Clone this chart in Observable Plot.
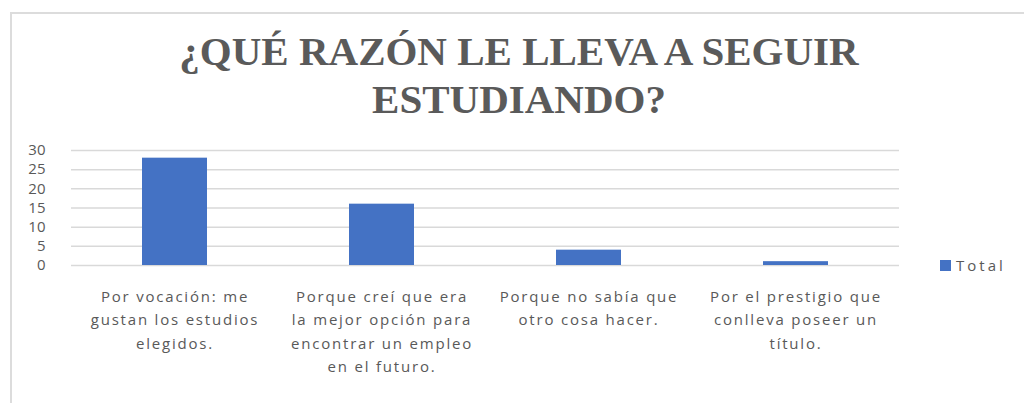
<!DOCTYPE html>
<html><head><meta charset="utf-8">
<script src="https://cdn.jsdelivr.net/npm/d3@7"></script>
<script src="https://cdn.jsdelivr.net/npm/@observablehq/plot@0.6"></script>
<style>
body{margin:0;background:#fff;}
#wrap{position:relative;width:1024px;height:403px;overflow:hidden;background:#fff;}
#border{position:absolute;left:10px;top:12px;width:1040px;height:420px;border:2px solid #dcdcdc;box-sizing:border-box;}
#title{position:absolute;left:0;top:27px;width:1038px;text-align:center;font-family:"Liberation Serif","Times New Roman",serif;font-weight:bold;font-size:41px;line-height:48px;color:#5a5a5a;}
#chart{position:absolute;left:0;top:0;}
#legend{position:absolute;left:940px;top:255px;font-family:"Open Sans",sans-serif;font-size:15px;letter-spacing:3px;color:#595959;display:flex;align-items:center;}
#legend span.sw{display:inline-block;width:11px;height:11px;background:#4472C4;margin-right:5px;}
#chart g[aria-label="x-axis tick label"] text{letter-spacing:1.8px;}
</style></head>
<body>
<div id="wrap">
<div id="border"></div>
<div id="title">¿QUÉ RAZÓN LE LLEVA A SEGUIR<br>ESTUDIANDO?</div>
<div id="chart"></div>
<div id="legend"><span class="sw"></span><span id="legtext"></span></div>
</div>
<script>
const categories = [
  "Por vocación: me\ngustan los estudios\nelegidos.",
  "Porque creí que era\nla mejor opción para\nencontrar un empleo\nen el futuro.",
  "Porque no sabía que\notro cosa hacer.",
  "Por el prestigio que\nconlleva poseer un\ntítulo."
];
const values = [28, 16, 4, 1];
const yTicks = [0, 5, 10, 15, 20, 25, 30];
const seriesName = "Total";

const data = categories.map((c, i) => ({category: c, value: values[i]}));
document.getElementById("legtext").textContent = seriesName;

const plot = Plot.plot({
  width: 1024,
  height: 403,
  marginTop: 150,
  marginBottom: 138,
  marginLeft: 71,
  marginRight: 125,
  style: {background: "transparent", fontFamily: "'Open Sans', sans-serif", color: "#595959"},
  x: {domain: categories, padding: 0},
  y: {domain: [0, 30], ticks: yTicks},
  marks: [
    Plot.ruleY(yTicks, {stroke: "#d9d9d9", strokeWidth: 1.5}),
    Plot.barY(data, {x: "category", y: "value", fill: "#4472C4", insetLeft: 71, insetRight: 71}),
    Plot.axisY({ticks: yTicks, tickSize: 0, tickPadding: 26, fontSize: 15, fill: "#595959", label: null}),
    Plot.axisX({tickSize: 0, tickPadding: 20, fontSize: 15, fill: "#595959", lineHeight: 1.55, label: null})
  ]
});
document.getElementById("chart").appendChild(plot);
</script>
</body></html>
